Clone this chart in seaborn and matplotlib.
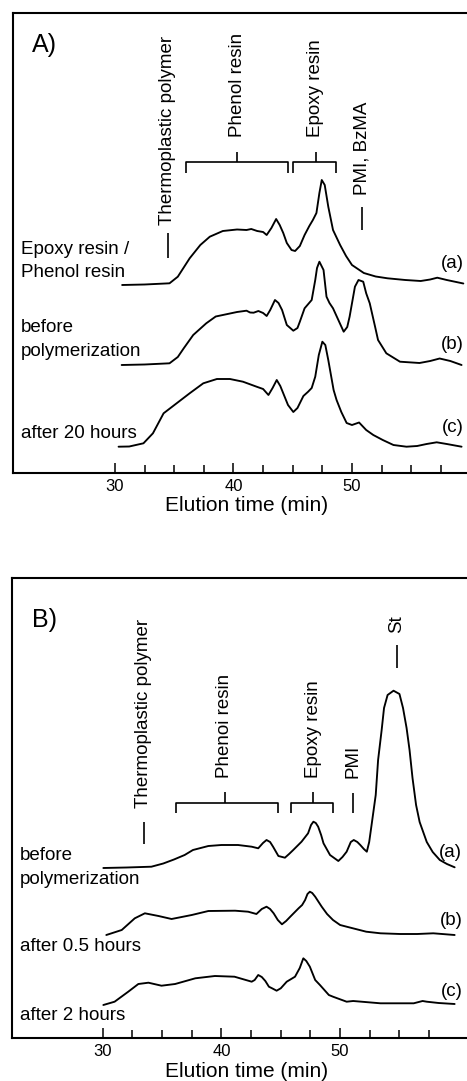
import numpy as np
import pandas as pd
import matplotlib
matplotlib.use("Agg")
import matplotlib.pyplot as plt
import seaborn as sns

# ---------------- data (elution time in min, detector signal in arbitrary units) ----------------
# Panel A
t_Aa = [30.6, 32.5, 34.6, 35.3, 36.3, 37.2, 38.0, 39.1, 40.3, 41.1, 41.5, 42.0, 42.5, 42.8, 43.2, 43.6, 43.9,
        44.2, 44.5, 44.9, 45.2, 45.6, 46.0, 46.4, 46.7, 47.0, 47.25, 47.45, 47.7, 48.0, 48.4, 49.0, 49.5, 50.0,
        51.0, 52.0, 53.0, 54.5, 55.8, 56.6, 57.2, 58.0, 59.4]
s_Aa = [0, 0.5, 1.7, 8.3, 26.7, 40, 48.3, 54, 55.5, 55, 56, 54, 53, 50, 57, 66, 60,
        52, 42, 35, 34, 39, 50, 59, 65, 72, 92, 105, 100, 78.3, 55, 40, 29, 20,
        12, 8.5, 6.7, 5, 4, 5.5, 7.3, 5, 1.5]

t_Ab = [30.56, 32.5, 34.6, 35.3, 35.8, 36.6, 37.7, 38.5, 39.1, 40.3, 41.1, 41.4, 41.7, 42.1, 42.5, 42.8, 43.1,
        43.5, 43.8, 44.1, 44.5, 45.05, 45.4, 45.6, 46.0, 46.6, 46.9, 47.05, 47.25, 47.6, 47.85, 48.1, 48.4,
        48.85, 49.3, 49.6, 49.8, 50.25, 50.55, 50.95, 51.2, 51.5, 51.95, 52.2, 52.9, 54.05, 55.7, 56.6, 57.4,
        58.3, 59.25]
s_Ab = [0, 0.5, 1.7, 8, 16.7, 30, 41.7, 48.5, 50, 53, 54.3, 52.5, 52.3, 54, 52, 49, 55,
        65, 62, 55, 40, 34.3, 37, 43.3, 56.7, 65, 85, 97, 103.3, 95, 68.3, 62, 56.7,
        45, 33.3, 38, 48.3, 78.3, 85, 83.3, 71.7, 61.7, 38.3, 25, 11.7, 3.3, 2, 4, 6.5,
        4, 0]

t_Ac = [30.3, 31.2, 32.4, 33.2, 34.1, 35.2, 36.3, 37.45, 38.6, 39.7, 40.8, 41.95, 42.5, 42.95, 43.3, 43.65,
        43.95, 44.2, 44.6, 45.05, 45.4, 45.9, 46.3, 46.6, 46.9, 47.2, 47.5, 47.75, 48.0, 48.45, 48.7, 49.1,
        49.55, 50.0, 50.6, 51.2, 51.8, 52.6, 53.5, 54.6, 55.5, 56.3, 57.15, 58.0, 59.25]
s_Ac = [0, 0.2, 3.4, 13.4, 33.4, 43.4, 53.4, 63.4, 67.7, 67.7, 65, 60, 57.7, 51.7, 58.7, 66.7,
        60.7, 53.4, 41.7, 34.7, 38.7, 50.7, 55, 58.7, 70, 91.7, 105, 101.7, 86.7, 56.7, 46.7, 34.7,
        23.7, 21.7, 24.2, 16.7, 11.7, 6.7, 1.7, 0, 0.7, 2.7, 4.4, 2.7, 0]

# Panel B
t_Ba = [30.05, 32.0, 34.1, 35.1, 36.0, 36.9, 37.6, 38.9, 40.0, 41.4, 42.55, 43.1, 43.5, 43.8, 44.1, 44.35,
        44.8, 45.35, 45.7, 46.05, 46.75, 47.3, 47.55, 47.75, 47.95, 48.15, 48.4, 48.6, 49.15, 49.85, 50.2,
        50.55, 50.9, 51.15, 51.45, 51.7, 52.0, 52.25, 52.45, 52.65, 53.0, 53.2, 53.5, 53.7, 54.0, 54.5,
        55.0, 55.3, 55.6, 55.85, 56.1, 56.4, 56.7, 57.3, 57.8, 58.4, 59.0, 59.65]
s_Ba = [0, 0.5, 1.3, 4.5, 8.5, 13, 18, 22, 23, 23, 21.3, 19.7, 25, 28, 26, 21.3,
        12, 10.3, 14, 18, 26.3, 34.7, 43, 46.3, 45, 41.3, 33, 24.7, 13, 7, 11,
        16.3, 26, 28, 26, 23, 19, 16.3, 26, 43, 73, 108, 138, 160, 173, 177.3,
        174, 160, 140, 118, 90, 63, 46, 26, 16, 8, 4, 0.7]

t_Bb = [30.3, 31.6, 32.7, 33.55, 34.7, 35.8, 37.5, 38.9, 41.15, 42.25, 42.95, 43.4, 43.8, 44.1, 44.4, 44.75,
        45.1, 45.45, 45.8, 46.5, 46.8, 47.05, 47.25, 47.45, 47.65, 47.9, 48.45, 48.9, 49.4, 50.0, 50.55,
        52.2, 53.4, 55.05, 56.5, 57.85, 59.65]
s_Bb = [0, 5, 16.7, 21.7, 19, 16, 20, 24, 24.3, 23.3, 21, 26, 28.3, 26, 21.7, 15,
        10.7, 14, 18.3, 26.7, 30, 35, 41, 43.3, 42, 38.3, 28.3, 21, 15, 10, 8.3,
        3.3, 1.7, 1, 1, 1.7, 0]

t_Bc = [30.05, 31.0, 32.15, 33.0, 33.85, 34.95, 36.1, 37.8, 39.45, 41.1, 42.55, 42.8, 43.1, 43.4, 43.7, 44.0,
        44.3, 44.65, 45.0, 45.5, 46.2, 46.6, 46.9, 47.15, 47.45, 47.9, 48.3, 49.05, 49.4, 50.55, 51.1, 53.4,
        56.2, 56.95, 57.3, 58.3, 59.65]
s_Bc = [1, 4.3, 14.3, 22, 23.3, 20.3, 22, 27.7, 30, 29.3, 24.3, 26, 31, 29, 25, 19.3,
        17.5, 15.3, 17.7, 24.3, 29.3, 38, 47.7, 45, 39.3, 26, 21, 11, 9.3, 4.3, 5, 2.7,
        2.7, 5, 4.3, 3, 2]

trace_ids = ["(a)", "(b)", "(c)"]
labels_A = [["Epoxy resin /", "Phenol resin"], ["before", "polymerization"], ["after 20 hours"]]
labels_B = [["before", "polymerization"], ["after 0.5 hours"], ["after 2 hours"]]
xlabel = "Elution time (min)"

# ---------------- layout (stacking offsets etc.) ----------------
offsets_A = [188, 108, 26.3]
offsets_B = [170.3, 103.3, 32.3]


def build(ts, ss, offs):
    rows = []
    for tid, t, s, o in zip(trace_ids, ts, ss, offs):
        for ti, si in zip(t, s):
            rows.append({"time": ti, "signal": si + o, "trace": tid})
    return pd.DataFrame(rows)


df_A = build([t_Aa, t_Ab, t_Ac], [s_Aa, s_Ab, s_Ac], offsets_A)
df_B = build([t_Ba, t_Bb, t_Bc], [s_Ba, s_Bb, s_Bc], offsets_B)

sns.set_theme(style="white")
plt.rcParams["font.family"] = ["Liberation Sans", "DejaVu Sans"]
plt.rcParams["text.color"] = "black"
plt.rcParams["axes.labelcolor"] = "black"
plt.rcParams["xtick.color"] = "black"

W, H = 467, 1081
fig = plt.figure(figsize=(W / 100, H / 100), dpi=100)
fig.patch.set_facecolor("white")


def px_axes(left, top, right, bottom):
    return fig.add_axes([left / W, 1 - bottom / H, (right - left) / W, (bottom - top) / H])


axA = px_axes(13, 13, 481, 473)
axB = px_axes(11.7, 577.7, 481, 1038.3)

LBL = 13.5
for ax, df, xlim, ylim in [(axA, df_A, (21.39, 60.89), (0, 460)), (axB, df_B, (22.33, 61.87), (0, 460.6))]:
    sns.lineplot(data=df, x="time", y="signal", units="trace", estimator=None, sort=False,
                 color="black", lw=1.35, ax=ax, legend=False)
    ax.set_xlim(*xlim)
    ax.set_ylim(*ylim)
    ax.set_yticks([])
    ax.set_ylabel("")
    ax.set_xticks([30, 40, 50])
    ax.set_xticks([32.5, 35, 37.5, 42.5, 45, 47.5, 52.5, 55, 57.5], minor=True)
    ax.tick_params(axis="x", which="major", direction="in", length=7.5, width=1.1, pad=4,
                   labelsize=12, bottom=True, colors="black")
    ax.tick_params(axis="x", which="minor", direction="in", length=5.5, width=1.1, bottom=True)
    ax.set_xlabel(xlabel, fontsize=15, labelpad=2, color="black")
    for sp in ["left", "top", "bottom"]:
        ax.spines[sp].set_visible(True)
        ax.spines[sp].set_color("black")
        ax.spines[sp].set_linewidth(1.5)
    ax.spines["right"].set_visible(False)
    ax.set_facecolor("white")

kw = dict(color="black", lw=1.2, solid_capstyle="butt", clip_on=False)

# ---------- Panel A annotations ----------
axA.text(23.0, 421.3, "A)", fontsize=18, ha="left", va="baseline")
axA.text(34.47, 248, "Thermoplastic polymer", rotation=90, fontsize=LBL, ha="center", va="bottom")
axA.plot([34.45, 34.45], [215, 240], **kw)
axA.text(40.3, 336, "Phenol resin", rotation=90, fontsize=LBL, ha="center", va="bottom")
axA.plot([40.3, 40.3], [311, 321], **kw)
axA.plot([36.0, 36.0, 44.6, 44.6], [300, 311, 311, 300], **kw)
axA.text(46.9, 336, "Epoxy resin", rotation=90, fontsize=LBL, ha="center", va="bottom")
axA.plot([46.95, 46.95], [311, 321], **kw)
axA.plot([45.0, 45.0, 48.65, 48.65], [300, 311, 311, 300], **kw)
axA.text(50.84, 278, "PMI, BzMA", rotation=90, fontsize=LBL, ha="center", va="bottom")
axA.plot([50.84, 50.84], [243, 266], **kw)

axA.text(22.07, 219, labels_A[0][0], fontsize=LBL, ha="left", va="baseline")
axA.text(22.07, 195.7, labels_A[0][1], fontsize=LBL, ha="left", va="baseline")
axA.text(22.07, 141.3, labels_A[1][0], fontsize=LBL, ha="left", va="baseline")
axA.text(22.07, 117, labels_A[1][1], fontsize=LBL, ha="left", va="baseline")
axA.text(22.07, 35.3, labels_A[2][0], fontsize=LBL, ha="left", va="baseline")
for tid, yb in zip(trace_ids, [205, 123.7, 41.3]):
    axA.text(59.45, yb, tid, fontsize=LBL, ha="right", va="baseline", clip_on=False)

# ---------- Panel B annotations ----------
axB.text(24.04, 411.6, "B)", fontsize=18, ha="left", va="baseline")
axB.text(33.4, 230.3, "Thermoplastic polymer", rotation=90, fontsize=LBL, ha="center", va="bottom")
axB.plot([33.48, 33.48], [194.3, 216.3], **kw)
axB.text(40.3, 260.3, "Phenoi resin", rotation=90, fontsize=LBL, ha="center", va="bottom")
axB.plot([40.3, 40.3], [235.3, 246.3], **kw)
axB.plot([36.15, 36.15, 44.75, 44.75], [225.3, 235.3, 235.3, 225.3], **kw)
axB.text(47.74, 260.3, "Epoxy resin", rotation=90, fontsize=LBL, ha="center", va="bottom")
axB.plot([47.74, 47.74], [235.3, 246.3], **kw)
axB.plot([45.9, 45.9, 49.4, 49.4], [225.3, 235.3, 235.3, 225.3], **kw)
axB.text(51.06, 260.3, "PMI", rotation=90, fontsize=LBL, ha="center", va="bottom")
axB.plot([51.06, 51.06], [225.3, 245.3], **kw)
axB.text(54.77, 405.3, "St", rotation=90, fontsize=LBL, ha="center", va="bottom")
axB.plot([54.77, 54.77], [370.3, 393.3], **kw)

axB.text(23.03, 178.3, labels_B[0][0], fontsize=LBL, ha="left", va="baseline")
axB.text(23.03, 154.3, labels_B[0][1], fontsize=LBL, ha="left", va="baseline")
axB.text(23.03, 87.3, labels_B[1][0], fontsize=LBL, ha="left", va="baseline")
axB.text(23.03, 18.3, labels_B[2][0], fontsize=LBL, ha="left", va="baseline")
for tid, yb in zip(trace_ids, [181.6, 113.3, 42.3]):
    axB.text(60.3, yb, tid, fontsize=LBL, ha="right", va="baseline", clip_on=False)

fig.savefig("out.png", dpi=100, facecolor="white")
